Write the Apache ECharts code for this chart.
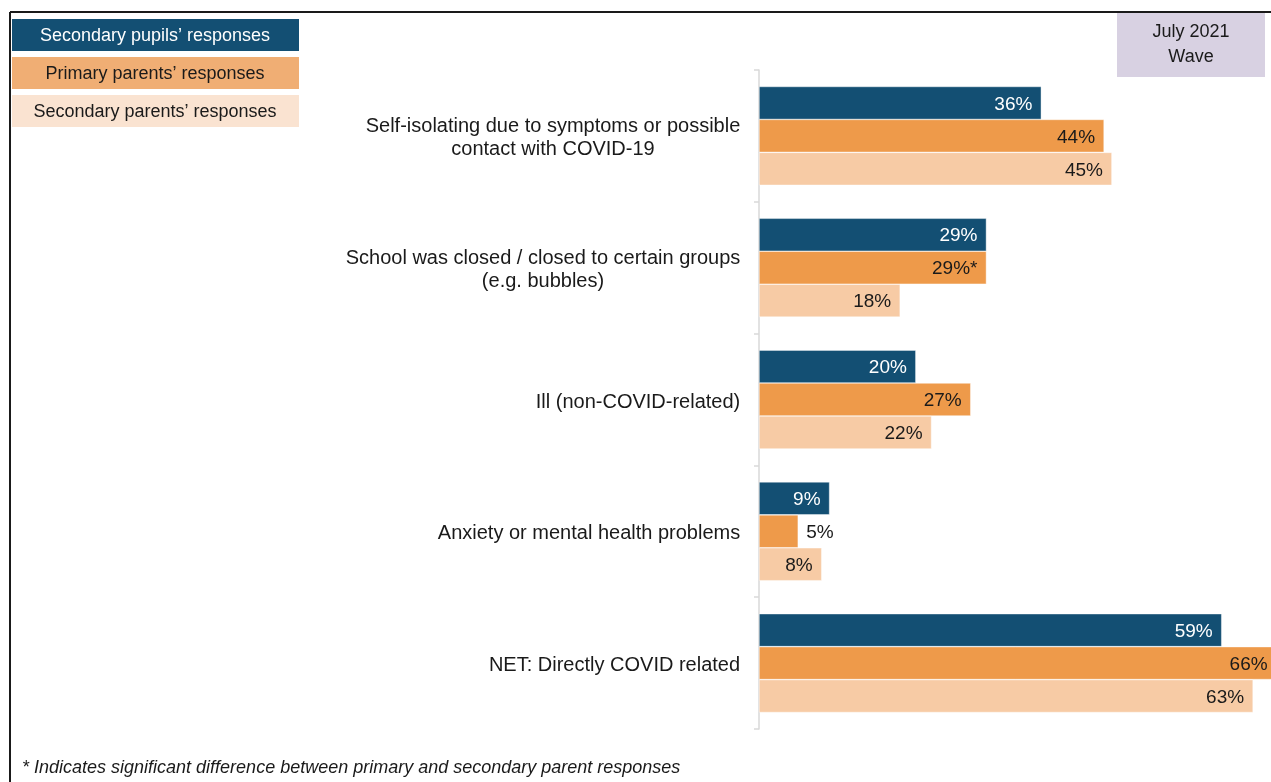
<!DOCTYPE html>
<html>
<head>
<meta charset="utf-8">
<style>
  html, body { margin: 0; padding: 0; background: #fff; }
  #chart { width: 1271px; height: 782px; }
</style>
<script src="https://cdn.jsdelivr.net/npm/echarts@6/dist/echarts.min.js"></script>
</head>
<body>
<div id="chart"></div>
<script>
// Reasons for absence, July 2021 wave
const categories = [
  'Self-isolating due to symptoms or possible\ncontact with COVID-19',
  'School was closed / closed to certain groups\n(e.g. bubbles)',
  'Ill (non-COVID-related)',
  'Anxiety or mental health problems',
  'NET: Directly COVID related'
];
const seriesNames = [
  'Secondary pupils\u2019 responses',
  'Primary parents\u2019 responses',
  'Secondary parents\u2019 responses'
];
const secondaryPupils = [36, 29, 20, 9, 59];
const primaryParents = [44, 29, 27, 5, 66];
const secondaryParents = [45, 18, 22, 8, 63];
// significant difference between primary and secondary parents
const primarySignificant = [false, true, false, false, false];
const waveLabel = 'July 2021\nWave';
const footnote = '* Indicates significant difference between primary and secondary parent responses';

const FONT = '"Liberation Sans", Arial, sans-serif';
const barColors = ['#134F73', '#EE9A4A', '#F7CBA5'];
const legendColors = ['#134F73', '#F0AE74', '#FAE3D1'];
const labelColors = ['#ffffff', '#1a1a1a', '#1a1a1a'];

// measure category label lines so each block is right-aligned with centred lines
const ctx = document.createElement('canvas').getContext('2d');
ctx.font = '20px ' + FONT;
const rich = {};
categories.forEach((c, i) => {
  const w = Math.max(...c.split('\n').map(l => ctx.measureText(l).width));
  rich['c' + i] = { width: Math.ceil(w) + 1, align: 'center', fontSize: 20, lineHeight: 23, color: '#1a1a1a', fontFamily: FONT };
});

function makeData(values, sIdx) {
  return values.map((v, i) => {
    const outside = v < 6;
    return {
      value: v,
      label: {
        position: outside ? 'right' : 'insideRight',
        distance: outside ? 8 : 9,
        color: outside ? '#1a1a1a' : labelColors[sIdx]
      }
    };
  });
}

const allValues = [secondaryPupils, primaryParents, secondaryParents];
const series = allValues.map((vals, s) => ({
  name: seriesNames[s],
  type: 'bar',
  data: makeData(vals, s),
  barGap: '0%',
  barCategoryGap: '25%',
  itemStyle: { color: barColors[s], borderColor: 'rgba(255,255,255,0.7)', borderWidth: 0.6 },
  label: {
    show: true,
    fontSize: 19,
    fontFamily: FONT,
    offset: [0, 1.5],
    formatter: p => p.value + '%' + (s === 1 && primarySignificant[p.dataIndex] ? '*' : '')
  },
  animation: false
}));

// legend boxes and wave tag
const graphics = [];
seriesNames.forEach((n, i) => {
  const y = 19 + i * 38;
  graphics.push({
    type: 'rect', left: 12, top: y, shape: { width: 287, height: 32 },
    style: { fill: legendColors[i] }, silent: true
  });
  graphics.push({
    type: 'text', x: 155, y: y + 17,
    style: { text: n, fill: i === 0 ? '#ffffff' : '#1a1a1a', font: '18px ' + FONT, align: 'center', verticalAlign: 'middle' }
  });
});
graphics.push({
  type: 'rect', left: 1117, top: 13, shape: { width: 148, height: 64 },
  style: { fill: '#D8D1E2' }, silent: true
});
graphics.push({
  type: 'text', x: 1191, y: 45,
  style: { text: waveLabel, fill: '#1a1a1a', font: '18px ' + FONT, align: 'center', verticalAlign: 'middle', lineHeight: 25 }
});
// frame
graphics.push({ type: 'line', shape: { x1: 10, y1: 12, x2: 1271, y2: 12 }, style: { stroke: '#1a1a1a', lineWidth: 2 } });
graphics.push({ type: 'line', shape: { x1: 10, y1: 12, x2: 10, y2: 782 }, style: { stroke: '#1a1a1a', lineWidth: 2 } });
// footnote
graphics.push({
  type: 'text', x: 22, y: 768,
  style: { text: footnote, fill: '#1a1a1a', font: 'italic 18px ' + FONT, align: 'left', verticalAlign: 'middle' }
});

const chart = echarts.init(document.getElementById('chart'), null, { renderer: 'canvas' });
chart.setOption({
  animation: false,
  backgroundColor: '#ffffff',
  grid: { left: 759, top: 70, height: 659, width: 549, containLabel: false, outerBoundsMode: 'none' },
  xAxis: { type: 'value', min: 0, max: 70, show: false },
  yAxis: {
    type: 'category',
    data: categories,
    inverse: true,
    axisLine: { show: true, lineStyle: { color: '#D9D9D9', width: 1.5 } },
    axisTick: { show: true, length: 5, lineStyle: { color: '#D9D9D9', width: 1.5 } },
    axisLabel: {
      margin: 18,
      align: 'right',
      padding: [5, 0, 0, 0],
      rich: rich,
      formatter: (value, index) => value.split('\n').map(l => '{c' + index + '|' + l + '}').join('\n')
    }
  },
  series: series,
  graphic: graphics
});
</script>
</body>
</html>
